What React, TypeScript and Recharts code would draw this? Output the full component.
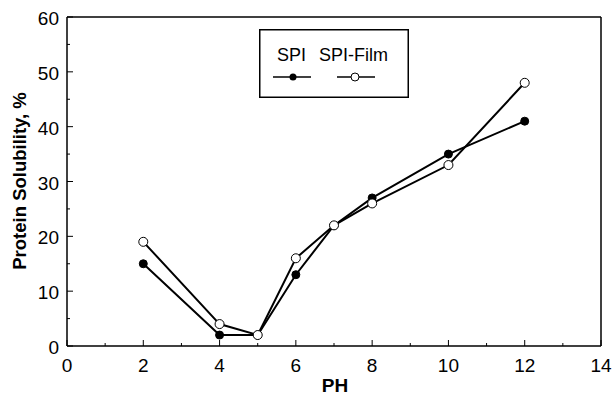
import React from "react";
import {
  LineChart,
  Line,
  XAxis,
  YAxis,
  ReferenceLine,
} from "recharts";

const phValues = [2, 4, 5, 6, 7, 8, 10, 12];
const spiValues = [15, 2, 2, 13, 22, 27, 35, 41];
const spiFilmValues = [19, 4, 2, 16, 22, 26, 33, 48];
const xTicks = [0, 1, 2, 3, 4, 5, 6, 7, 8, 9, 10, 11, 12, 13, 14];
const yTicks = [0, 5, 10, 15, 20, 25, 30, 35, 40, 45, 50, 55, 60];

const data = phValues.map((ph, i) => ({
  ph,
  spi: spiValues[i],
  film: spiFilmValues[i],
}));

const FONT = "'Liberation Sans', Arial, Helvetica, sans-serif";

function XTick(props: any) {
  const { x, y, payload } = props;
  const v = payload.value as number;
  const major = v % 2 === 0;
  return (
    <g>
      <line x1={x} x2={x} y1={y} y2={y - (major ? 6 : 3)} stroke="#000" strokeWidth={1} />
      {major && (
        <text x={x} y={y + 26} textAnchor="middle" fontSize={19} fontFamily={FONT} fill="#000">
          {v}
        </text>
      )}
    </g>
  );
}

function YTick(props: any) {
  const { x, y, payload } = props;
  const v = payload.value as number;
  const major = v % 10 === 0;
  return (
    <g>
      <line x1={x} x2={x + (major ? 6 : 3)} y1={y} y2={y} stroke="#000" strokeWidth={1} />
      {major && (
        <text x={x - 8} y={y + 8} textAnchor="end" fontSize={19} fontFamily={FONT} fill="#000">
          {v}
        </text>
      )}
    </g>
  );
}

// legend box drawn as its own svg, laid over the chart
function LegendBox() {
  return (
    <svg width={150} height={69} style={{ display: "block" }}>
      <rect x={0.75} y={0.75} width={148.5} height={67.5} fill="#fff" stroke="#000" strokeWidth={1.5} />
      <text x={18} y={32} fontSize={18} fontFamily={FONT} fill="#000">SPI</text>
      <text x={60} y={32} fontSize={18} fontFamily={FONT} fill="#000">SPI-Film</text>
      <line x1={14} x2={52} y1={48} y2={48} stroke="#000" strokeWidth={1.5} />
      <circle cx={34} cy={48} r={3.5} fill="#000" />
      <line x1={78} x2={116} y1={48} y2={48} stroke="#000" strokeWidth={1.5} />
      <circle cx={96} cy={48} r={4} fill="#fff" stroke="#000" strokeWidth={1} />
    </svg>
  );
}

function OpenDot(props: any) {
  const { cx, cy } = props;
  if (cx == null || cy == null) return null;
  return <circle cx={cx} cy={cy} r={4.5} fill="#fff" stroke="#000" strokeWidth={1} />;
}

export default function App() {
  return (
    <div style={{ position: "absolute", left: 0, top: 0, width: 612, height: 396, background: "#fff" }}>
      <LineChart
        width={612}
        height={396}
        data={data}
        margin={{ top: 17, right: 11, bottom: 0, left: 0 }}
      >
        <XAxis
          dataKey="ph"
          type="number"
          domain={[0, 14]}
          ticks={xTicks}
          interval={0}
          height={50}
          tickSize={0}
          tickMargin={0}
          tickLine={false}
          axisLine={{ stroke: "#000", strokeWidth: 1.5 }}
          tick={<XTick />}
          label={{
            content: () => (
              <text x={335} y={392} textAnchor="middle" fontSize={19} fontWeight="bold" fontFamily={FONT} fill="#000">
                PH
              </text>
            ),
          }}
        />
        <YAxis
          type="number"
          domain={[0, 60]}
          ticks={yTicks}
          interval={0}
          width={67}
          tickSize={0}
          tickMargin={0}
          tickLine={false}
          axisLine={{ stroke: "#000", strokeWidth: 1.5 }}
          tick={<YTick />}
          label={{
            content: () => (
              <text
                transform="translate(26,181) rotate(-90)"
                textAnchor="middle"
                fontSize={18.5}
                fontWeight="bold"
                fontFamily={FONT}
                fill="#000"
              >
                Protein Solubility, %
              </text>
            ),
          }}
        />
        <ReferenceLine x={14} stroke="#000" strokeWidth={1.5} />
        <ReferenceLine y={60} stroke="#000" strokeWidth={1.5} />
        <Line
          dataKey="spi"
          name="SPI"
          stroke="#000"
          strokeWidth={2}
          dot={{ r: 4, fill: "#000", stroke: "#000", strokeWidth: 1 }}
          isAnimationActive={false}
        />
        <Line
          dataKey="film"
          name="SPI-Film"
          stroke="#000"
          strokeWidth={2}
          dot={<OpenDot />}
          isAnimationActive={false}
        />
      </LineChart>
      <div style={{ position: "absolute", left: 259, top: 29 }}>
        <LegendBox />
      </div>
    </div>
  );
}
